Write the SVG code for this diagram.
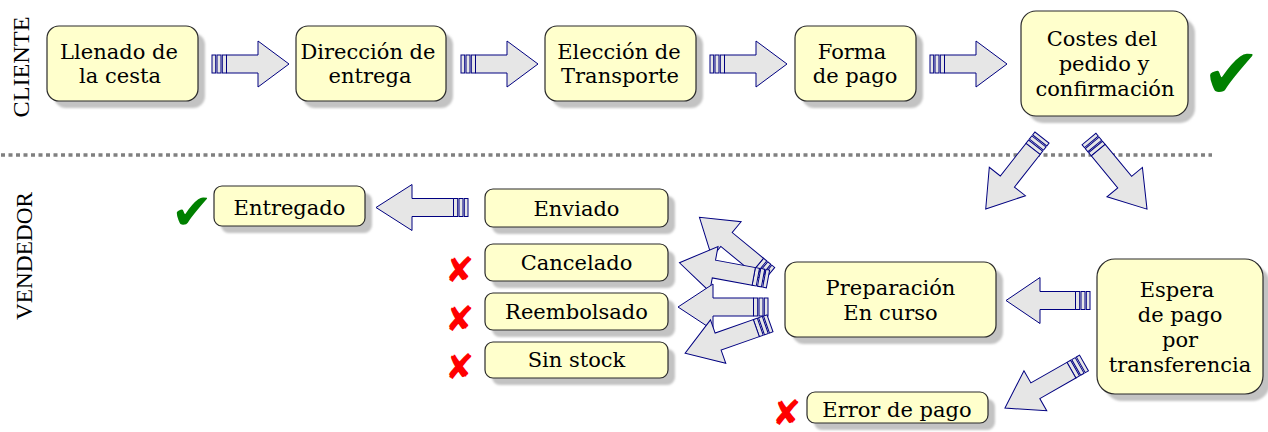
<svg xmlns="http://www.w3.org/2000/svg" xmlns:xlink="http://www.w3.org/1999/xlink" width="1268" height="432" viewBox="0 0 1268 432">
<style>
.box{fill:#ffffcc;stroke:#2b2b2b;stroke-width:1.2}
.sh{fill:#c3c3c3}
.t{font-family:"DejaVu Serif",serif;font-size:21px;fill:#000;text-anchor:middle}
.lane{font-family:"Liberation Serif",serif;font-size:24px;fill:#000;text-anchor:middle}
.ar rect,.ar path{fill:#e6e6e6;stroke:#000080;stroke-width:1;stroke-linejoin:miter}
.ok{font-family:"DejaVu Sans",sans-serif;fill:#008000}
.ko{font-family:"DejaVu Sans",sans-serif;fill:#ff0000;font-size:35px}
</style>
<defs>
<filter id="blur" x="-10%" y="-10%" width="120%" height="120%"><feGaussianBlur stdDeviation="0.8"/></filter>
<g id="stripes" class="ar"><rect x="0" y="-9" width="3.7" height="18"/><rect x="5" y="-9" width="4" height="18"/><rect x="10.3" y="-9" width="4.2" height="18"/></g>
<g id="a77" class="ar"><use xlink:href="#stripes"/><path d="M14.5,-9 H46 V-23 L77,0 L46,23 V9 H14.5 Z"/></g>
<g id="a91" class="ar"><use xlink:href="#stripes"/><path d="M14.5,-9 H56 V-23 L91,0 L56,23 V9 H14.5 Z"/></g>
<g id="a92" class="ar"><use xlink:href="#stripes"/><path d="M14.5,-9 H56 V-23 L92,0 L56,23 V9 H14.5 Z"/></g>
<g id="a84" class="ar"><use xlink:href="#stripes"/><path d="M14.5,-9 H50 V-23 L84,0 L50,23 V9 H14.5 Z"/></g>
<g id="a90" class="ar"><use xlink:href="#stripes"/><path d="M14.5,-9 H55 V-23 L90,0 L55,23 V9 H14.5 Z"/></g>
</defs>
<rect width="1268" height="432" fill="#ffffff"/>

<g id="lanes">
<text class="lane" transform="translate(28.5,67) rotate(-90)" textLength="101" lengthAdjust="spacingAndGlyphs">CLIENTE</text>
<text class="lane" transform="translate(32,256) rotate(-90)" textLength="128" lengthAdjust="spacingAndGlyphs">VENDEDOR</text>
<line x1="1" y1="155" x2="1212" y2="155" stroke="#808080" stroke-width="3.5" stroke-dasharray="4 3.5"/>
</g>

<g id="connectors">
<use xlink:href="#a77" transform="translate(212,64)"/>
<use xlink:href="#a77" transform="translate(461,64)"/>
<use xlink:href="#a77" transform="translate(710,64)"/>
<use xlink:href="#a77" transform="translate(930,64)"/>
<use xlink:href="#a91" transform="translate(1042,137.5) rotate(128.2)"/>
<use xlink:href="#a91" transform="translate(1089,139) rotate(50.4)"/>
<use xlink:href="#a84" transform="translate(1090,300.5) rotate(180)"/>
<use xlink:href="#a91" transform="translate(1084,363) rotate(150.3)"/>
<use xlink:href="#a92" transform="translate(468,207.5) rotate(180)"/>
<use xlink:href="#a90" transform="translate(769,274.4) rotate(219.4)"/>
<use xlink:href="#a90" transform="translate(768,279) rotate(190.4)"/>
<use xlink:href="#a90" transform="translate(768,307) rotate(180)"/>
<use xlink:href="#a90" transform="translate(770,323.3) rotate(160.6)"/>
</g>

<g id="n1"><rect class="sh" filter="url(#blur)" x="54" y="33" width="151" height="75" rx="12"/><rect class="box" x="47" y="26" width="151" height="75" rx="12"/><text class="t" x="119" y="59">Llenado de</text><text class="t" x="120" y="83">la cesta</text></g>
<g id="n2"><rect class="sh" filter="url(#blur)" x="303" y="33" width="150" height="75" rx="12"/><rect class="box" x="296" y="26" width="150" height="75" rx="12"/><text class="t" x="368" y="59">Dirección de</text><text class="t" x="370" y="83">entrega</text></g>
<g id="n3"><rect class="sh" filter="url(#blur)" x="552" y="33" width="151" height="75" rx="12"/><rect class="box" x="545" y="26" width="151" height="75" rx="12"/><text class="t" x="619" y="59">Elección de</text><text class="t" x="620" y="83">Transporte</text></g>
<g id="n4"><rect class="sh" filter="url(#blur)" x="802" y="33" width="121" height="75" rx="12"/><rect class="box" x="795" y="26" width="121" height="75" rx="12"/><text class="t" x="852" y="59">Forma</text><text class="t" x="855" y="83">de pago</text></g>
<g id="n5"><rect class="sh" filter="url(#blur)" x="1028" y="18" width="167" height="105" rx="15"/><rect class="box" x="1021" y="11" width="167" height="105" rx="15"/><text class="t" x="1102" y="46">Costes del</text><text class="t" x="1104" y="71">pedido y</text><text class="t" x="1105" y="96">confirmación</text></g>
<g id="ok1"><text class="ok" x="1202" y="98" font-size="70">✔</text></g>

<g id="n6"><rect class="sh" filter="url(#blur)" x="221" y="193" width="151" height="40" rx="8"/><rect class="box" x="214" y="186" width="151" height="40" rx="8"/><text class="t" x="289.5" y="215">Entregado</text></g>
<g id="ok2"><text class="ok" x="171" y="229" font-size="50">✔</text></g>
<g id="n7"><rect class="sh" filter="url(#blur)" x="492" y="196" width="183" height="38" rx="8"/><rect class="box" x="485" y="189" width="183" height="38" rx="8"/><text class="t" x="576.5" y="216">Enviado</text></g>
<g id="n8"><rect class="sh" filter="url(#blur)" x="492" y="251" width="183" height="37" rx="8"/><rect class="box" x="485" y="244" width="183" height="37" rx="8"/><text class="t" x="576.5" y="270">Cancelado</text></g>
<g id="n9"><rect class="sh" filter="url(#blur)" x="492" y="300" width="183" height="37" rx="8"/><rect class="box" x="485" y="293" width="183" height="37" rx="8"/><text class="t" x="576.5" y="319">Reembolsado</text></g>
<g id="n10"><rect class="sh" filter="url(#blur)" x="492" y="349" width="183" height="36" rx="8"/><rect class="box" x="485" y="342" width="183" height="36" rx="8"/><text class="t" x="576.5" y="367">Sin stock</text></g>
<g id="ko1"><text class="ko" x="445" y="282">✘</text><text class="ko" x="445" y="331">✘</text><text class="ko" x="445" y="379">✘</text><text class="ko" x="772" y="425" font-size="33">✘</text></g>
<g id="n11"><rect class="sh" filter="url(#blur)" x="792" y="269" width="211" height="75" rx="12"/><rect class="box" x="785" y="262" width="211" height="75" rx="12"/><text class="t" x="890.5" y="295">Preparación</text><text class="t" x="890.5" y="320">En curso</text></g>
<g id="n12"><rect class="sh" filter="url(#blur)" x="1104" y="266" width="166" height="135" rx="18"/><rect class="box" x="1097" y="259" width="166" height="135" rx="18"/><text class="t" x="1177" y="297">Espera</text><text class="t" x="1180" y="322">de pago</text><text class="t" x="1180" y="347">por</text><text class="t" x="1180" y="372">transferencia</text></g>
<g id="n13"><rect class="sh" filter="url(#blur)" x="814" y="399" width="181" height="31" rx="8"/><rect class="box" x="807" y="392" width="181" height="31" rx="8"/><text class="t" x="897" y="417">Error de pago</text></g>
</svg>
